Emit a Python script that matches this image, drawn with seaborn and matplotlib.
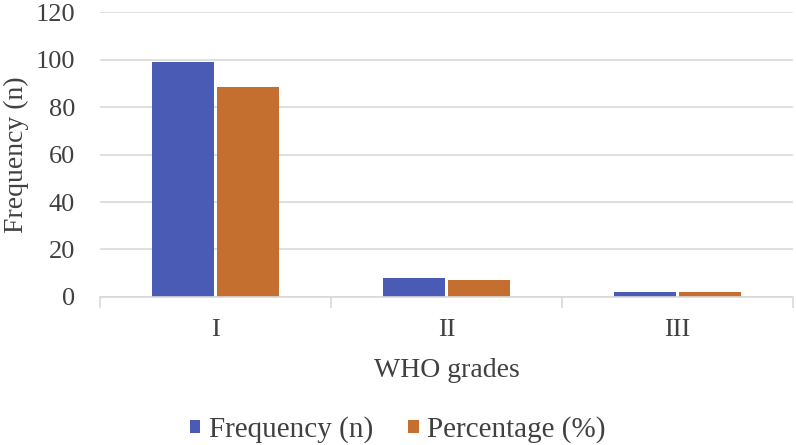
import pandas as pd
import numpy as np
import matplotlib
matplotlib.use('Agg')
import matplotlib.pyplot as plt
import seaborn as sns

# values
grades = ['I', 'II', 'III']
frequency = [99, 8, 2.3]
percentage = [88.4, 7.2, 2.0]
series = ['Frequency (n)', 'Percentage (%)']
colors = ['#4A5BB5', '#C46E30']

df = pd.DataFrame({
    'grade': grades * 2,
    'value': frequency + percentage,
    'series': [series[0]] * 3 + [series[1]] * 3,
})

sns.set_theme(style='white')
plt.rcParams['font.family'] = ['Liberation Serif', 'DejaVu Serif']
txt = '#404040'

fig = plt.figure(figsize=(7.96, 4.45), dpi=100)
ax = fig.add_axes([0.1256, 0.3326, 0.8706, 0.6404])

sns.barplot(data=df, x='grade', y='value', hue='series', palette=colors,
            saturation=1, width=0.56, gap=0.05, linewidth=0, ax=ax,
            legend=True)

ax.set_ylim(0, 120)
ax.set_yticks(range(0, 121, 20))
ax.set_xlim(-0.5, 2.5)
ax.yaxis.grid(True, color='#D9D9D9', linewidth=1.2)
ax.set_axisbelow(True)

for s in ['top', 'right', 'left']:
    ax.spines[s].set_visible(False)
ax.spines['bottom'].set_color('#D9D9D9')
ax.spines['bottom'].set_linewidth(1.2)

ax.tick_params(axis='y', length=0, labelsize=19, labelcolor=txt, pad=18)
ax.tick_params(axis='x', which='major', length=0, labelsize=19,
               labelcolor=txt, pad=16)
ax.set_xticks([-0.5, 0.5, 1.5, 2.5], minor=True)
ax.tick_params(axis='x', which='minor', length=8, width=1.2,
               color='#D9D9D9', bottom=True)

ax.set_xlabel('WHO grades', fontsize=20, color=txt, labelpad=12)
ax.set_ylabel('Frequency (n)', fontsize=20, color=txt)
ax.yaxis.set_label_coords(-0.103, 0.5)

handles, labels = ax.get_legend_handles_labels()
ax.legend(handles, labels, loc='center', bbox_to_anchor=(0.5, 0.034),
          bbox_transform=fig.transFigure, ncol=2, frameon=False,
          fontsize=21, handlelength=0.35, handleheight=0.35,
          handletextpad=0.3, columnspacing=1.2, labelcolor=txt)

fig.savefig('out.png', dpi=100)
